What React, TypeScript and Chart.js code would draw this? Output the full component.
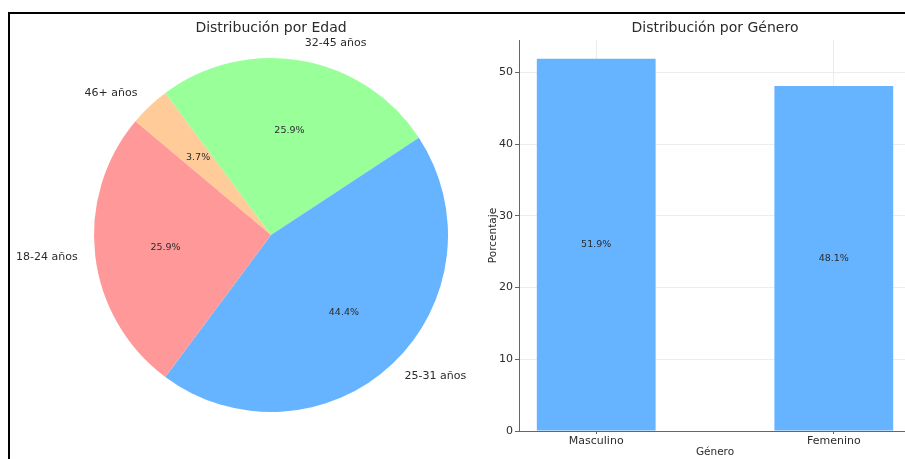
import React, { useEffect, useRef } from "react";
import { Chart, registerables } from "chart.js";

Chart.register(...registerables);

// Age distribution (pie)
const ageGroups = ["18-24 años", "25-31 años", "32-45 años", "46+ años"];
const ageShares = [25.9, 44.4, 25.9, 3.7];
const ageColors = ["#ff9999", "#66b3ff", "#99ff99", "#ffcc99"];

// Gender distribution (bars)
const genders = ["Masculino", "Femenino"];
const genderShares = [51.9, 48.1];
const percentTicks = [0, 10, 20, 30, 40, 50];

const FONT = "'DejaVu Sans', Verdana, sans-serif";
const TEXT = "#2b2b2b";

// Pie slices go counter-clockwise from 140°, so feed Chart.js (clockwise) the reversed order.
const pieOrder = ageGroups.map((_, i) => ageGroups.length - 1 - i);

const pieLabelsPlugin = {
  id: "pieLabels",
  afterDatasetsDraw(chart: any) {
    const { ctx, chartArea } = chart;
    const meta = chart.getDatasetMeta(0);
    ctx.save();
    ctx.fillStyle = TEXT;
    ctx.textBaseline = "middle";
    meta.data.forEach((arc: any, i: number) => {
      const idx = pieOrder[i];
      const { x, y, startAngle, endAngle, outerRadius } = arc.getProps(
        ["x", "y", "startAngle", "endAngle", "outerRadius"],
        true
      );
      const mid = (startAngle + endAngle) / 2;
      const c = Math.cos(mid);
      const s = Math.sin(mid);
      ctx.font = `11px ${FONT}`;
      ctx.textAlign = c > 0 ? "left" : "right";
      ctx.fillText(ageGroups[idx], x + 1.1 * outerRadius * c, y + 1.1 * outerRadius * s);
      ctx.font = `9.5px ${FONT}`;
      ctx.textAlign = "center";
      ctx.fillText(`${ageShares[idx].toFixed(1)}%`, x + 0.6 * outerRadius * c, y + 0.6 * outerRadius * s);
    });
    ctx.font = `14px ${FONT}`;
    ctx.textAlign = "center";
    ctx.fillText("Distribución por Edad", (chartArea.left + chartArea.right) / 2, 28);
    ctx.restore();
  },
};

const barLabelsPlugin = {
  id: "barLabels",
  afterDatasetsDraw(chart: any) {
    const { ctx, chartArea, scales } = chart;
    const meta = chart.getDatasetMeta(0);
    ctx.save();
    ctx.fillStyle = TEXT;
    ctx.textBaseline = "middle";
    ctx.textAlign = "center";
    ctx.font = `9.5px ${FONT}`;
    meta.data.forEach((bar: any, i: number) => {
      const v = genderShares[i];
      ctx.fillText(`${v.toFixed(1)}%`, bar.x, scales.y.getPixelForValue(v / 2));
    });
    ctx.font = `14px ${FONT}`;
    ctx.fillText("Distribución por Género", (chartArea.left + chartArea.right) / 2, 28);
    ctx.restore();
  },
};

export default function App() {
  const pieRef = useRef<HTMLCanvasElement>(null);
  const barRef = useRef<HTMLCanvasElement>(null);

  useEffect(() => {
    const pie = new Chart(pieRef.current!, {
      type: "pie",
      data: {
        labels: pieOrder.map((i) => ageGroups[i]),
        datasets: [
          {
            data: pieOrder.map((i) => ageShares[i]),
            backgroundColor: pieOrder.map((i) => ageColors[i]),
            borderWidth: 0,
          },
        ],
      },
      options: {
        animation: false,
        responsive: false,
        maintainAspectRatio: false,
        rotation: -50,
        layout: { padding: { left: 94, right: 22, top: 58, bottom: 47 } },
        plugins: { legend: { display: false }, tooltip: { enabled: false } },
      },
      plugins: [pieLabelsPlugin],
    });

    const tickFont = { family: FONT, size: 11 };
    const bar = new Chart(barRef.current!, {
      type: "bar",
      data: {
        datasets: [
          {
            data: genderShares.map((v, i) => ({ x: i, y: v })),
            backgroundColor: "#66b3ff",
            borderWidth: 0,
            barPercentage: 0.5,
            categoryPercentage: 1,
          },
        ],
      },
      options: {
        animation: false,
        responsive: false,
        maintainAspectRatio: false,
        layout: { padding: { top: 40, right: 0, left: 0, bottom: 0 } },
        plugins: { legend: { display: false }, tooltip: { enabled: false } },
        scales: {
          x: {
            type: "linear",
            min: -0.325,
            max: 1.325,
            offset: false,
            afterBuildTicks: (s: any) => {
              s.ticks = genders.map((_, i) => ({ value: i }));
            },
            afterFit: (s: any) => {
              s.height = 28;
            },
            ticks: {
              callback: (v: any) => genders[v as number],
              font: tickFont,
              color: TEXT,
              padding: 1,
              maxRotation: 0,
              autoSkip: false,
            },
            grid: { offset: false, color: "#ececec", tickColor: "#666", tickLength: 3 },
            border: { color: "#666", width: 1 },
            title: {
              display: true,
              text: "Género",
              font: { family: FONT, size: 10.5 },
              color: TEXT,
              padding: { top: 0, bottom: 0 },
            },
          },
          y: {
            min: 0,
            max: 54.5,
            afterBuildTicks: (s: any) => {
              s.ticks = percentTicks.map((v) => ({ value: v }));
            },
            afterFit: (s: any) => {
              s.width = 49;
            },
            ticks: { font: tickFont, color: TEXT, padding: 2 },
            grid: { color: "#ececec", tickColor: "#666", tickLength: 4 },
            border: { color: "#666", width: 1 },
            title: {
              display: true,
              text: "Porcentaje",
              font: { family: FONT, size: 10.5 },
              color: TEXT,
              padding: { top: 17, bottom: 0 },
            },
          },
        },
      },
      plugins: [barLabelsPlugin],
    });

    return () => {
      pie.destroy();
      bar.destroy();
    };
  }, []);

  return (
    <div
      style={{
        position: "fixed",
        left: 0,
        top: 0,
        width: 905,
        height: 459,
        overflow: "hidden",
        background: "#fff",
      }}
    >
      <canvas
        ref={pieRef}
        width={470}
        height={459}
        style={{ position: "absolute", left: 0, top: 0, display: "block" }}
      />
      <canvas
        ref={barRef}
        width={441}
        height={459}
        style={{ position: "absolute", left: 470, top: 0, display: "block" }}
      />
      <div
        style={{
          position: "absolute",
          left: 8,
          top: 12,
          width: 920,
          height: 470,
          borderTop: "2px solid #000",
          borderLeft: "2px solid #000",
          pointerEvents: "none",
        }}
      />
    </div>
  );
}
